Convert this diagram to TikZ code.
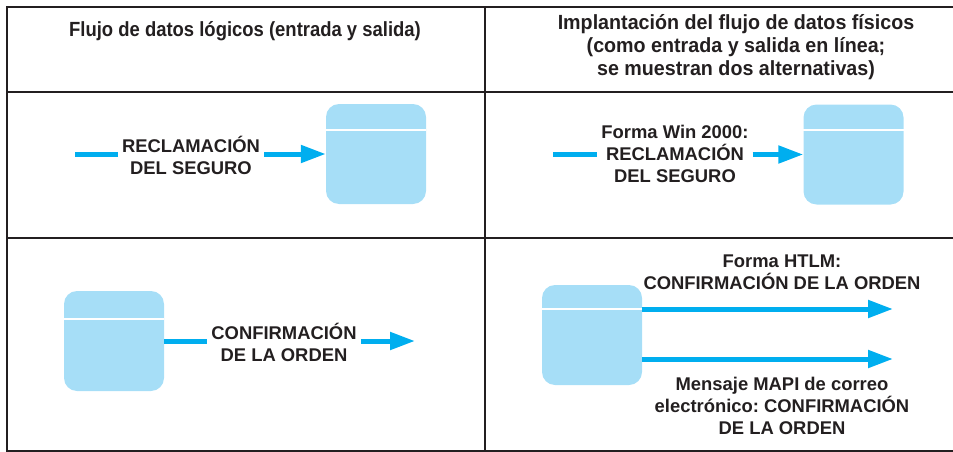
\documentclass[tikz,border=0pt]{standalone}
\usepackage{fontspec}
\setmainfont{Liberation Sans}
\newfontfamily\hdrfont[FakeStretch=0.9]{Liberation Sans}
\newfontfamily\hdrwfont[FakeStretch=0.96]{Liberation Sans}
\usetikzlibrary{arrows.meta,calc}
\definecolor{ink}{HTML}{231F20}
\definecolor{flow}{HTML}{00AEEF}
\definecolor{store}{HTML}{A6DEF7}
\frenchspacing
\tikzset{
  grid/.style={draw=ink, line width=2pt},
  storebox/.style={rectangle, rounded corners=13pt, fill=store, minimum width=100pt, minimum height=100pt, inner sep=0pt},
  divider/.style={draw=white, line width=2.2pt},
  flowline/.style={draw=flow, line width=5pt},
  flowarrow/.style={draw=flow, line width=5pt, -{Triangle[length=25pt,width=17pt]}},
  lbl/.style={font=\bfseries\fontsize{18.4}{22}\selectfont, text=ink, align=center, inner sep=4pt},
  hdr/.style={font=\hdrfont\bfseries\fontsize{20.5}{23}\selectfont, text=ink, align=center, inner sep=0pt},
  hdrw/.style={font=\hdrwfont\bfseries\fontsize{20.5}{23}\selectfont, text=ink, align=center, inner sep=0pt}
}
\begin{document}
\begin{tikzpicture}[x=1pt,y=-1pt]
\useasboundingbox (0,0) rectangle (953,452);
% table
\draw[grid] (953,7) -- (7,7) -- (7,451) -- (953,451);
\draw[grid] (7,92) -- (953,92);
\draw[grid] (7,238) -- (953,238);
\draw[grid] (485,7) -- (485,451);
% headers
\node[hdr] (h1) at (245,31) {Flujo de datos lógicos (entrada y salida)};
\node[hdrw] (h2) at (736,47) {Implantación del flujo de datos físicos\\(como entrada y salida en línea;\\se muestran dos alternativas)};
% stores
\node[storebox] (b1) at (376,154) {};
\node[storebox] (b2) at (853.5,154.5) {};
\node[storebox] (b3) at (114,341) {};
\node[storebox] (b4) at (592,335) {};
\draw[divider] ([yshift=-26pt]b1.north west) -- ([yshift=-26pt]b1.north east);
\draw[divider] ([yshift=-26pt]b2.north west) -- ([yshift=-26pt]b2.north east);
\draw[divider] ([yshift=-28pt]b3.north west) -- ([yshift=-28pt]b3.north east);
\draw[divider] ([yshift=-24pt]b4.north west) -- ([yshift=-24pt]b4.north east);
% labels
\node[lbl] (t1) at (191,155) {RECLAMACIÓN\\DEL SEGURO};
\node[lbl] (t2) at (675,154) {Forma Win 2000:\\RECLAMACIÓN\\DEL SEGURO};
\node[lbl] (t3) at (284,342) {CONFIRMACIÓN\\DE LA ORDEN};
\node[lbl] (t4) at (782,272) {Forma HTLM:\\CONFIRMACIÓN DE LA ORDEN};
\node[lbl] (t5) at (782,406) {Mensaje MAPI de correo\\electrónico: CONFIRMACIÓN\\DE LA ORDEN};
% flow ends
\coordinate (s1) at (75,154);
\coordinate (s2) at (553,154.5);
\coordinate (e3) at (415,341);
\coordinate (e4a) at (893,309);
\coordinate (e4b) at (893,359);
% flows
\draw[flowline] (s1) -- (s1 -| t1.west);
\draw[flowarrow] (s1 -| t1.east) -- (b1.west);
\draw[flowline] (s2) -- (s2 -| t2.west);
\draw[flowarrow] (s2 -| t2.east) -- (b2.west);
\draw[flowline] (b3.east) -- (b3.east -| t3.west);
\draw[flowarrow] (b3.east -| t3.east) -- (e3);
\draw[flowarrow] (e4a -| b4.east) -- (e4a);
\draw[flowarrow] (e4b -| b4.east) -- (e4b);
\end{tikzpicture}
\end{document}
